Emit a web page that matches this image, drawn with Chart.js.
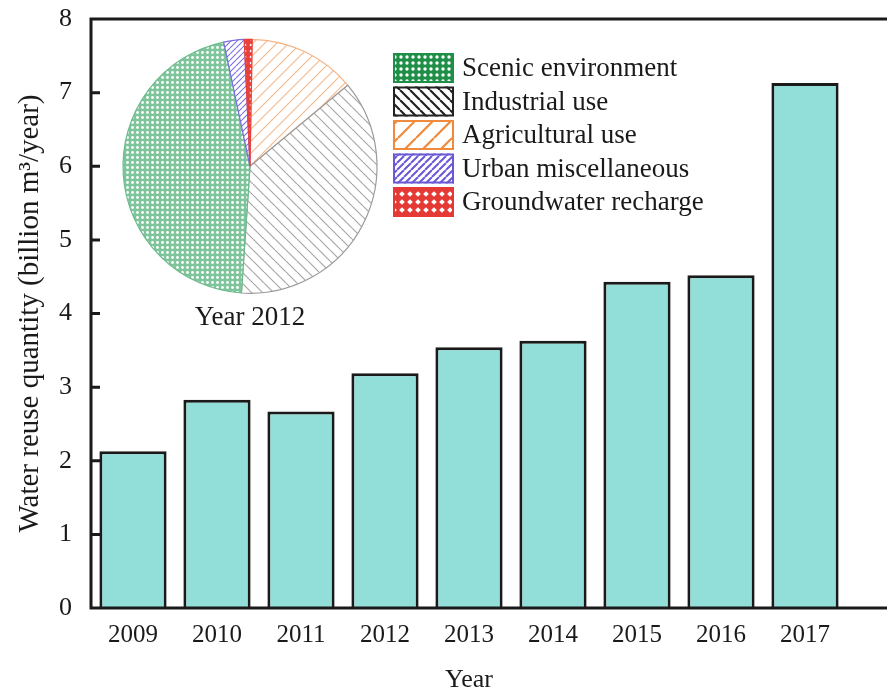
<!DOCTYPE html>
<html>
<head>
<meta charset="utf-8">
<script src="https://cdn.jsdelivr.net/npm/chart.js@4.4.1/dist/chart.umd.min.js"></script>
<style>
  body { margin: 0; background: #fff; }
  #wrap { position: relative; width: 887px; height: 690px; }
  #barChart { position: absolute; left: 0; top: 0; }
  #pieChart { position: absolute; left: 110px; top: 30px; }
</style>
</head>
<body>
<div id="wrap">
  <canvas id="barChart" width="887" height="690"></canvas>
  <canvas id="pieChart" width="610" height="320"></canvas>
</div>
<script>
// -------------------------------------------------------
// Data
// -------------------------------------------------------

const years = ["2009", "2010", "2011", "2012", "2013", "2014", "2015", "2016", "2017"];
const reuse = [2.13, 2.83, 2.67, 3.19, 3.54, 3.63, 4.43, 4.52, 7.13];
const yTicks = [0, 1, 2, 3, 4, 5, 6, 7, 8];

// 2012 breakdown (percent), legend order
const useLabels = ["Scenic environment", "Industrial use", "Agricultural use", "Urban miscellaneous", "Groundwater recharge"];
const useShares = [45.6, 37.1, 13.7, 2.6, 1.0];
// slices go clockwise from 12 o'clock in this order
const sliceOrder = [2, 1, 0, 3, 4];

const SERIF = "'Liberation Serif', 'Times New Roman', serif";
const INK = "#1a1a1a";

Chart.defaults.font.family = SERIF;
Chart.defaults.color = INK;
Chart.defaults.animation = false;


// -------------------------------------------------------
// Hatch patterns
// -------------------------------------------------------

function makePattern(size, paint) {
    const c = document.createElement("canvas");
    c.width = size;
    c.height = size;
    const g = c.getContext("2d");
    g.fillStyle = "#fff";
    g.fillRect(0, 0, size, size);
    paint(g, size);
    return g.createPattern(c, "repeat");
}

function dots(color, size, r) {
    return makePattern(size, (g, s) => {
        g.fillStyle = color;
        g.fillRect(0, 0, s, s);
        g.fillStyle = "#fff";
        g.beginPath();
        g.arc(s / 2, s / 2, r, 0, Math.PI * 2);
        g.fill();
    });
}

function lines(color, size, width, back) {
    return makePattern(size, (g, s) => {
        g.strokeStyle = color;
        g.lineWidth = width;
        g.beginPath();
        for (let k = -1; k <= 1; k++) {
            if (back) {
                g.moveTo(k * s, 0);
                g.lineTo(k * s + s, s);
            } else {
                g.moveTo(k * s, s);
                g.lineTo(k * s + s, 0);
            }
        }
        g.stroke();
    });
}

function lattice(color, size, d) {
    return makePattern(size, (g, s) => {
        g.fillStyle = color;
        g.fillRect(0, 0, s, s);
        g.fillStyle = "#fff";
        g.beginPath();
        g.moveTo(s / 2, s / 2 - d);
        g.lineTo(s / 2 + d, s / 2);
        g.lineTo(s / 2, s / 2 + d);
        g.lineTo(s / 2 - d, s / 2);
        g.closePath();
        g.fill();
    });
}

const pieEdge = ["#6dbb8c", "#9a9a9a", "#f4b487", "#7b6ee0", "#e8403c"];
const piePatterns = [
    dots("#7fc59b", 5, 1.4),
    lines("#a8a8a8", 11, 1.2, true),
    lines("#f5bb90", 12, 1.2, false),
    lines("#7b6ee0", 6, 1.1, false),
    lattice("#e8403c", 6, 1.6)
];

const keyEdge = ["#1f8f47", "#222222", "#f08a3c", "#6a58d6", "#e53935"];
const keyPatterns = [
    dots("#1f8f47", 6, 1.7),
    lines("#222222", 10, 2.2, true),
    lines("#f08a3c", 18, 2.2, false),
    lines("#6a58d6", 7, 2, false),
    lattice("#e53935", 8, 2.8)
];


// -------------------------------------------------------
// Bar chart: water reuse per year
// -------------------------------------------------------

// open frame (left, top, bottom) with the y ticks pointing inwards
const framePlugin = {
    id: "frame",
    afterDraw(chart) {
        const {ctx, chartArea} = chart;
        const y = chart.scales.y;
        ctx.save();
        ctx.strokeStyle = INK;
        ctx.lineWidth = 3;
        ctx.beginPath();
        ctx.moveTo(chart.width, chartArea.top);
        ctx.lineTo(chartArea.left, chartArea.top);
        ctx.lineTo(chartArea.left, chartArea.bottom);
        ctx.lineTo(chart.width, chartArea.bottom);
        yTicks.forEach(v => {
            const py = y.getPixelForValue(v);
            ctx.moveTo(chartArea.left, py);
            ctx.lineTo(chartArea.left + 9, py);
        });
        ctx.stroke();
        ctx.restore();
    }
};

new Chart(document.getElementById("barChart"), {
    type: "bar",
    data: {
        labels: years,
        datasets: [{
            data: reuse,
            backgroundColor: "#92ded8",
            borderColor: INK,
            borderWidth: 3,
            barPercentage: 0.8,
            categoryPercentage: 1
        }]
    },
    options: {
        responsive: false,
        devicePixelRatio: 1,
        layout: { padding: { top: 19, right: 40, left: 0, bottom: 0 } },
        plugins: { legend: { display: false }, tooltip: { enabled: false } },
        scales: {
            x: {
                grid: { display: false },
                border: { display: false },
                ticks: { font: { size: 25 }, padding: 4, maxRotation: 0, autoSkip: false },
                title: { display: true, text: "Year", font: { size: 26, lineHeight: 0.75 }, padding: { top: 0, bottom: 0 } },
                afterFit(scale) { scale.height = 82; }
            },
            y: {
                min: 0,
                max: 8,
                afterBuildTicks(scale) { scale.ticks = yTicks.map(v => ({ value: v })); },
                grid: { display: false },
                border: { display: false },
                ticks: { font: { size: 26 }, padding: 11 },
                title: { display: true, text: "Water reuse quantity (billion m³/year)", font: { size: 29 }, padding: { top: 13, bottom: 0 } },
                afterFit(scale) {
                    scale.width = 91;
                    scale.paddingTop = 0;
                    scale.paddingBottom = 0;
                }
            }
        }
    },
    plugins: [framePlugin]
});


// -------------------------------------------------------
// Inset pie: uses in 2012, with its key
// -------------------------------------------------------

const keyPlugin = {
    id: "useKey",
    afterDraw(chart) {
        const {ctx, chartArea} = chart;
        const x = chartArea.right + 16;
        const top = 23;
        ctx.save();
        ctx.font = "27px " + SERIF;
        ctx.textBaseline = "middle";
        useLabels.forEach((label, i) => {
            const y = top + i * 33.5;
            ctx.fillStyle = keyPatterns[i];
            ctx.fillRect(x, y, 61, 30);
            ctx.strokeStyle = keyEdge[i];
            ctx.lineWidth = 2;
            ctx.strokeRect(x + 1, y + 1, 59, 28);
            ctx.fillStyle = INK;
            ctx.fillText(label, x + 69, y + 16);
        });
        ctx.restore();
    }
};

new Chart(document.getElementById("pieChart"), {
    type: "pie",
    data: {
        labels: sliceOrder.map(i => useLabels[i]),
        datasets: [{
            data: sliceOrder.map(i => useShares[i]),
            backgroundColor: sliceOrder.map(i => piePatterns[i]),
            borderColor: sliceOrder.map(i => pieEdge[i]),
            borderWidth: 1.2,
            radius: 127
        }]
    },
    options: {
        responsive: false,
        devicePixelRatio: 1,
        rotation: 1,
        layout: { padding: { left: 13, right: 343, top: 9, bottom: 8 } },
        plugins: {
            legend: { display: false },
            tooltip: { enabled: false },
            title: {
                display: true,
                position: "bottom",
                text: "Year 2012",
                color: INK,
                font: { size: 27, weight: "normal" },
                padding: { top: 8, bottom: 8 }
            }
        }
    },
    plugins: [keyPlugin]
});
</script>
</body>
</html>
